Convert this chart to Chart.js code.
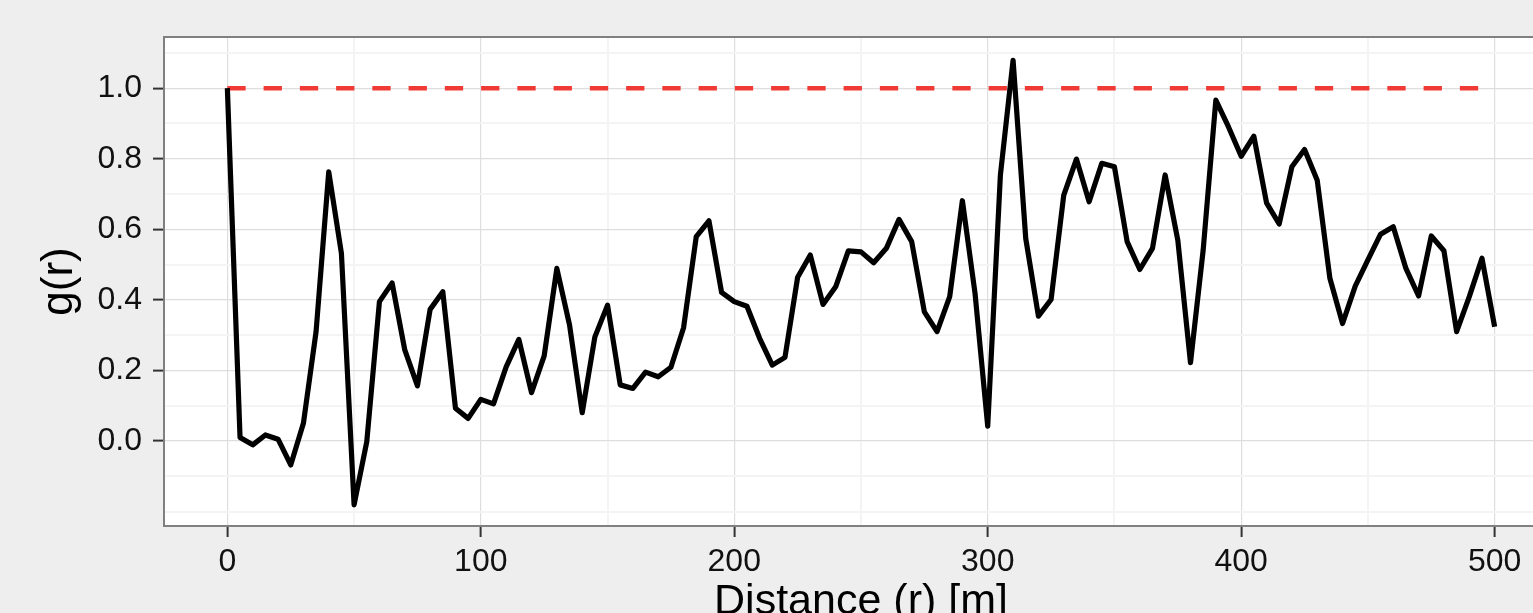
<!DOCTYPE html>
<html>
<head>
<meta charset="utf-8">
<script src="https://cdn.jsdelivr.net/npm/chart.js@4.4.1/dist/chart.umd.min.js"></script>
<style>
  html, body { margin: 0; padding: 0; background: #EEEEEE; overflow: hidden; width: 1533px; height: 613px; }
  #wrap { width: 1558px; height: 613px; position: relative; }
</style>
</head>
<body>
<div id="wrap"><canvas id="c" width="1558" height="613"></canvas></div>
<script>
// ---- data ----
const distances = [0,5,10,15,20,25,30,35,40,45,50,55,60,65,70,75,80,85,90,95,
  100,105,110,115,120,125,130,135,140,145,150,155,160,165,170,175,180,185,190,195,
  200,205,210,215,220,225,230,235,240,245,250,255,260,265,270,275,280,285,290,295,
  300,305,310,315,320,325,330,335,340,345,350,355,360,365,370,375,380,385,390,395,
  400,405,410,415,420,425,430,435,440,445,450,455,460,465,470,475,480,485,490,495,500];
const gValues = [1.0,0.010,-0.011,0.017,0.005,-0.068,0.050,0.310,0.763,0.532,
  -0.181,-0.002,0.395,0.448,0.258,0.156,0.373,0.423,0.093,0.064,
  0.118,0.105,0.210,0.288,0.137,0.241,0.489,0.329,0.080,0.295,
  0.385,0.159,0.149,0.195,0.182,0.209,0.321,0.579,0.624,0.421,
  0.395,0.382,0.291,0.215,0.237,0.464,0.527,0.387,0.437,0.539,
  0.536,0.505,0.546,0.628,0.565,0.366,0.310,0.409,0.681,0.418,
  0.042,0.754,1.079,0.574,0.354,0.401,0.697,0.799,0.678,0.787,
  0.777,0.565,0.486,0.546,0.754,0.569,0.222,0.541,0.966,0.890,
  0.807,0.864,0.675,0.615,0.777,0.826,0.739,0.461,0.333,0.439,
  0.513,0.586,0.607,0.489,0.411,0.581,0.539,0.310,0.409,0.518,0.324];
const refX = [0, 500];
const refY = [1, 1];
const xMajorTicks = [0, 100, 200, 300, 400, 500];
const xMinorTicks = [50, 150, 250, 350, 450];
const yMajorTicks = [0.0, 0.2, 0.4, 0.6, 0.8, 1.0];
const yMinorTicks = [-0.2, -0.1, 0.1, 0.3, 0.5, 0.7, 0.9, 1.1];
const xTitle = 'Distance (r) [m]';
const yTitle = 'g(r)';

const isIn = (arr, v) => arr.some(a => Math.abs(a - v) < 1e-6);
const FONT = '"Liberation Sans", Arial, Helvetica, sans-serif';

const panelPlugin = {
  id: 'panel',
  beforeDraw(chart) {
    const {ctx, chartArea: a} = chart;
    ctx.save();
    ctx.fillStyle = '#FFFFFF';
    ctx.fillRect(a.left, a.top, a.right - a.left, a.bottom - a.top);
    ctx.restore();
  },
  afterDraw(chart) {
    const {ctx, chartArea: a} = chart;
    ctx.save();
    ctx.strokeStyle = '#808080';
    ctx.lineWidth = 2;
    ctx.strokeRect(a.left, a.top, a.right - a.left, a.bottom - a.top);
    ctx.restore();
  }
};

const gridColor = (majors) => (c) => isIn(majors, c.tick.value) ? '#DEDEDE' : '#F4F4F4';
const gridWidth = (majors) => (c) => isIn(majors, c.tick.value) ? 1.2 : 2;
const tickCol = (majors) => (c) => isIn(majors, c.tick.value) ? '#333333' : 'rgba(0,0,0,0)';

new Chart(document.getElementById('c'), {
  type: 'line',
  data: {
    datasets: [
      {
        data: refX.map((x, i) => ({x, y: refY[i]})),
        borderColor: '#EF3A35',
        borderWidth: 4.5,
        borderDash: [18.3, 17.95],
        borderCapStyle: 'butt',
        pointRadius: 0,
        tension: 0,
        order: 2
      },
      {
        data: distances.map((x, i) => ({x, y: gValues[i]})),
        borderColor: '#000000',
        borderWidth: 5.2,
        borderJoinStyle: 'round',
        pointRadius: 0,
        tension: 0,
        order: 1
      }
    ]
  },
  options: {
    responsive: false,
    animation: false,
    events: [],
    layout: { padding: { top: 37, right: 0, left: 0, bottom: 0 } },
    plugins: { legend: { display: false }, tooltip: { enabled: false } },
    scales: {
      x: {
        type: 'linear',
        min: -25,
        max: 525,
        afterBuildTicks: (s) => { s.ticks = [...xMajorTicks, ...xMinorTicks].sort((a,b)=>a-b).map(v => ({value: v})); },
        afterFit: (s) => { s.height = 87; },
        border: { display: false },
        grid: {
          color: gridColor(xMajorTicks),
          lineWidth: gridWidth(xMajorTicks),
          tickColor: tickCol(xMajorTicks),
          tickWidth: 2,
          tickLength: 11
        },
        ticks: {
          autoSkip: false,
          maxRotation: 0,
          padding: 6,
          color: '#111111',
          font: { family: FONT, size: 32 },
          callback: (v) => isIn(xMajorTicks, v) ? String(v) : ''
        },
        title: {
          display: true,
          text: xTitle,
          color: '#000000',
          font: { family: FONT, size: 43, lineHeight: 0.5 },
          padding: 0
        }
      },
      y: {
        type: 'linear',
        min: -0.241,
        max: 1.145,
        afterBuildTicks: (s) => { s.ticks = [...yMajorTicks, ...yMinorTicks].sort((a,b)=>a-b).map(v => ({value: v})); },
        afterFit: (s) => { s.width = 164; },
        border: { display: false },
        grid: {
          color: gridColor(yMajorTicks),
          lineWidth: gridWidth(yMajorTicks),
          tickColor: tickCol(yMajorTicks),
          tickWidth: 2,
          tickLength: 11
        },
        ticks: {
          autoSkip: false,
          padding: 11,
          color: '#111111',
          font: { family: FONT, size: 32 },
          callback: (v) => isIn(yMajorTicks, v) ? v.toFixed(1) : ''
        },
        title: {
          display: true,
          text: yTitle,
          color: '#000000',
          font: { family: FONT, size: 44, lineHeight: 1.2 },
          padding: { top: 33, bottom: 0 }
        }
      }
    }
  },
  plugins: [panelPlugin]
});
</script>
</body>
</html>
